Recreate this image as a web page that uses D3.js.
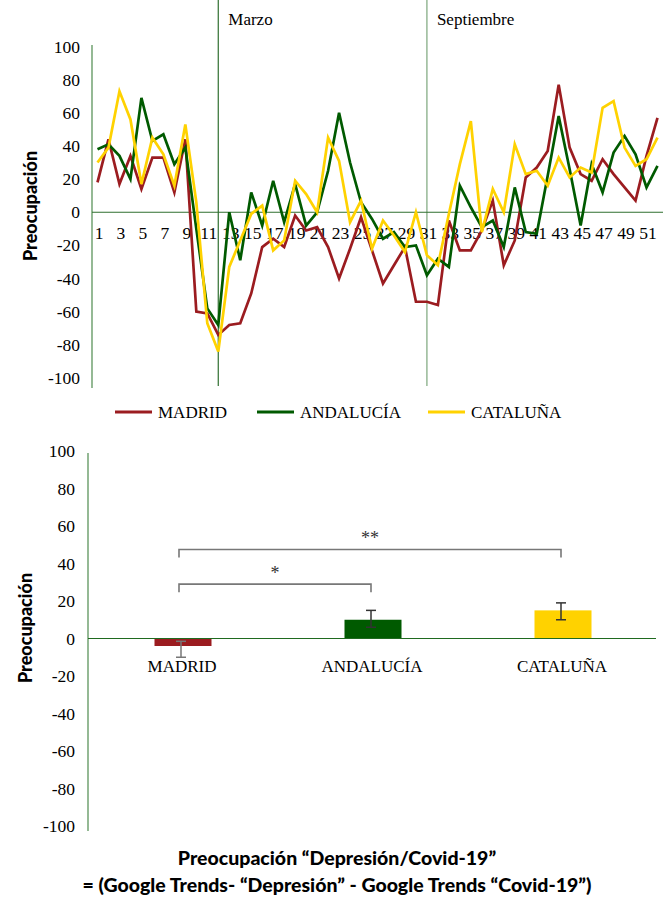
<!DOCTYPE html>
<html>
<head>
<meta charset="utf-8">
<script src="https://cdn.jsdelivr.net/npm/d3@7"></script>
<style>
  body { margin: 0; background: #fff; }
  svg { display: block; }
</style>
</head>
<body>
<svg id="chart"></svg>
<script>
// weekly values (week 1..52)
const weeks = d3.range(1, 53);
const madrid = [18, 44, 17, 34, 14, 33, 33, 12, 44, -60, -61, -74, -68, -67, -49, -21, -16, -21, -2, -11,
  -9, -21, -40, -22, -3, -23, -43, -32, -21, -54, -54, -56, -5, -23, -23, -11, 7, -32, -17, 21,
  27, 37, 77, 39, 23, 19, 32, 23, 15, 7, 34, 57];
const andalucia = [38, 41, 34, 20, 69, 43, 47, 29, 39, -10, -58, -68, 0, -29, 12, -8, 19, -6, 17, -8,
  0, 25, 60, 30, 6, -4, -16, -12, -21, -20, -38, -28, -33, 16, 3, -9, -5, -21, 15, -12,
  -13, 22, 58, 26, -8, 29, 12, 36, 46, 35, 15, 28];
const cataluna = [30, 39, 73, 56, 17, 45, 35, 16, 53, 6, -67, -84, -33, -17, -1, 4, -23, -17, 19, 11,
  0, 45, 31, -6, 7, -22, -5, -14, -24, 0, -26, -32, -1, 29, 55, -12, 14, 0, 41, 23,
  25, 16, 33, 21, 27, 24, 63, 67, 39, 28, 32, 45];
const yTicks = [100, 80, 60, 40, 20, 0, -20, -40, -60, -80, -100];
const markers = [{ week: 12, label: 'Marzo' }, { week: 31, label: 'Septiembre' }];

// averages per region
const regions = ['MADRID', 'ANDALUCÍA', 'CATALUÑA'];
const means = [-4, 10, 15];
const errLow = [-10, 6, 10];
const errHigh = [-1.5, 15, 19];

const RED = '#9b1c20';
const GREEN = '#005a00';
const YELLOW = '#ffd200';
const AXIS = '#4d8a4d';
const SERIF = '"Liberation Serif", "DejaVu Serif", serif';
const BOLD = 'Lato, "Open Sans", sans-serif';

const svg = d3.select('#chart')
    .attr('width', 665)
    .attr('height', 900);

// ---------------- TOP: weekly lines ----------------
const x = d3.scalePoint().domain(weeks).range([97.5, 657.5]);
const y = d3.scaleLinear().domain([-100, 100]).range([378, 46.5]);

// month marker lines
markers.forEach((m, i) => {
  svg.append('line')
      .attr('x1', x(m.week)).attr('x2', x(m.week))
      .attr('y1', 0).attr('y2', 386)
      .attr('stroke', i === 0 ? '#3f7a3f' : '#86ad86')
      .attr('stroke-width', 1.3);
  svg.append('text')
      .attr('x', x(m.week) + 10)
      .attr('y', 25)
      .attr('font-family', SERIF)
      .attr('font-size', 17)
      .text(m.label);
});

// y axis
svg.append('line')
    .attr('x1', 92).attr('x2', 92)
    .attr('y1', 45).attr('y2', 388)
    .attr('stroke', AXIS).attr('stroke-width', 1.2);

svg.append('g')
    .selectAll('text')
    .data(yTicks)
    .enter()
    .append('text')
    .attr('x', 80)
    .attr('y', (d) => y(d) + 6)
    .attr('text-anchor', 'end')
    .attr('font-family', SERIF)
    .attr('font-size', 17.5)
    .text((d) => d);

// zero line + week labels
svg.append('line')
    .attr('x1', 92).attr('x2', 663)
    .attr('y1', y(0)).attr('y2', y(0))
    .attr('stroke', '#2f6f2f').attr('stroke-width', 1.2);

svg.append('g')
    .selectAll('text')
    .data(weeks.filter((w) => w % 2 === 1))
    .enter()
    .append('text')
    .attr('x', (w) => x(w) + 1.5)
    .attr('y', y(0) + 27)
    .attr('text-anchor', 'middle')
    .attr('font-family', SERIF)
    .attr('font-size', 17.5)
    .text((w) => w);

// series
const series = [
  { name: 'MADRID', values: madrid, color: RED },
  { name: 'ANDALUCÍA', values: andalucia, color: GREEN },
  { name: 'CATALUÑA', values: cataluna, color: YELLOW }
];

const line = d3.line()
    .x((d, i) => x(weeks[i]))
    .y((d) => y(d));

series.forEach((s) => {
  svg.append('path')
      .datum(s.values)
      .attr('d', line)
      .attr('fill', 'none')
      .attr('stroke', s.color)
      .attr('stroke-width', 2.7)
      .attr('stroke-linejoin', 'miter');
});

// legend
const legendX = [115, 257, 428];
series.forEach((s, i) => {
  svg.append('line')
      .attr('x1', legendX[i]).attr('x2', legendX[i] + 37)
      .attr('y1', 412).attr('y2', 412)
      .attr('stroke', s.color).attr('stroke-width', 3);
  svg.append('text')
      .attr('x', legendX[i] + 43)
      .attr('y', 418)
      .attr('font-family', SERIF)
      .attr('font-size', 17)
      .text(s.name);
});

// axis title
svg.append('text')
    .attr('transform', 'translate(37, 206) rotate(-90)')
    .attr('text-anchor', 'middle')
    .attr('font-family', BOLD)
    .attr('font-weight', 900)
    .attr('font-size', 18)
    .text('Preocupación');

// ---------------- BOTTOM: averages ----------------
const xb = d3.scaleBand()
    .domain(regions)
    .range([88, 658])
    .paddingInner(0.7)
    .paddingOuter(0.35);
const yb = d3.scaleLinear().domain([-100, 100]).range([826, 451]);

svg.append('line')
    .attr('x1', 88).attr('x2', 88)
    .attr('y1', 453).attr('y2', 831)
    .attr('stroke', AXIS).attr('stroke-width', 1.2);

svg.append('g')
    .selectAll('text')
    .data(yTicks)
    .enter()
    .append('text')
    .attr('x', 75)
    .attr('y', (d) => yb(d) + 6)
    .attr('text-anchor', 'end')
    .attr('font-family', SERIF)
    .attr('font-size', 17.5)
    .text((d) => d);

const barColors = [RED, GREEN, YELLOW];

svg.append('g')
    .selectAll('rect')
    .data(regions)
    .enter()
    .append('rect')
    .attr('x', (r) => xb(r))
    .attr('y', (r, i) => yb(Math.max(0, means[i])))
    .attr('width', xb.bandwidth())
    .attr('height', (r, i) => Math.abs(yb(means[i]) - yb(0)))
    .attr('fill', (r, i) => barColors[i]);

svg.append('line')
    .attr('x1', 88).attr('x2', 656)
    .attr('y1', yb(0)).attr('y2', yb(0))
    .attr('stroke', '#1f6a1f').attr('stroke-width', 1.2);

// error bars
regions.forEach((r, i) => {
  const cx = xb(r) + xb.bandwidth() / 2 - 2;
  const col = i === 0 ? '#777' : '#333';
  const g = svg.append('g').attr('stroke', col).attr('stroke-width', 1.5);
  g.append('line').attr('x1', cx).attr('x2', cx).attr('y1', yb(errHigh[i])).attr('y2', yb(errLow[i]));
  g.append('line').attr('x1', cx - 5).attr('x2', cx + 5).attr('y1', yb(errHigh[i])).attr('y2', yb(errHigh[i]));
  g.append('line').attr('x1', cx - 5).attr('x2', cx + 5).attr('y1', yb(errLow[i])).attr('y2', yb(errLow[i]));
});

// category labels
svg.append('g')
    .selectAll('text')
    .data(regions)
    .enter()
    .append('text')
    .attr('x', (r) => xb(r) + xb.bandwidth() / 2 - 1)
    .attr('y', yb(0) + 33)
    .attr('text-anchor', 'middle')
    .attr('font-family', SERIF)
    .attr('font-size', 17)
    .text((r) => r);

// significance brackets
const brackets = [
  { from: 'MADRID', to: 'CATALUÑA', yv: 47.5, mark: '**' },
  { from: 'MADRID', to: 'ANDALUCÍA', yv: 29, mark: '*' }
];
brackets.forEach((b) => {
  const x1 = xb(b.from) + xb.bandwidth() / 2 - 4;
  const x2 = xb(b.to) + xb.bandwidth() / 2 - 2;
  const yy = yb(b.yv);
  svg.append('path')
      .attr('d', `M${x1},${yy + 8}V${yy}H${x2}V${yy + 8}`)
      .attr('fill', 'none')
      .attr('stroke', '#777')
      .attr('stroke-width', 1.6);
  svg.append('text')
      .attr('x', (x1 + x2) / 2)
      .attr('y', yy - 5)
      .attr('text-anchor', 'middle')
      .attr('font-family', SERIF)
      .attr('font-size', 18)
      .attr('fill', '#333')
      .text(b.mark);
});

svg.append('text')
    .attr('transform', 'translate(32, 628) rotate(-90)')
    .attr('text-anchor', 'middle')
    .attr('font-family', BOLD)
    .attr('font-weight', 900)
    .attr('font-size', 18)
    .text('Preocupación');

// footer
svg.append('text')
    .attr('x', 337)
    .attr('y', 865)
    .attr('text-anchor', 'middle')
    .attr('font-family', BOLD)
    .attr('font-weight', 900)
    .attr('font-size', 19.5)
    .text('Preocupación “Depresión/Covid-19”');

svg.append('text')
    .attr('x', 337)
    .attr('y', 892)
    .attr('text-anchor', 'middle')
    .attr('font-family', BOLD)
    .attr('font-weight', 900)
    .attr('font-size', 19.5)
    .text('= (Google Trends- “Depresión” - Google Trends “Covid-19”)');
</script>
</body>
</html>
